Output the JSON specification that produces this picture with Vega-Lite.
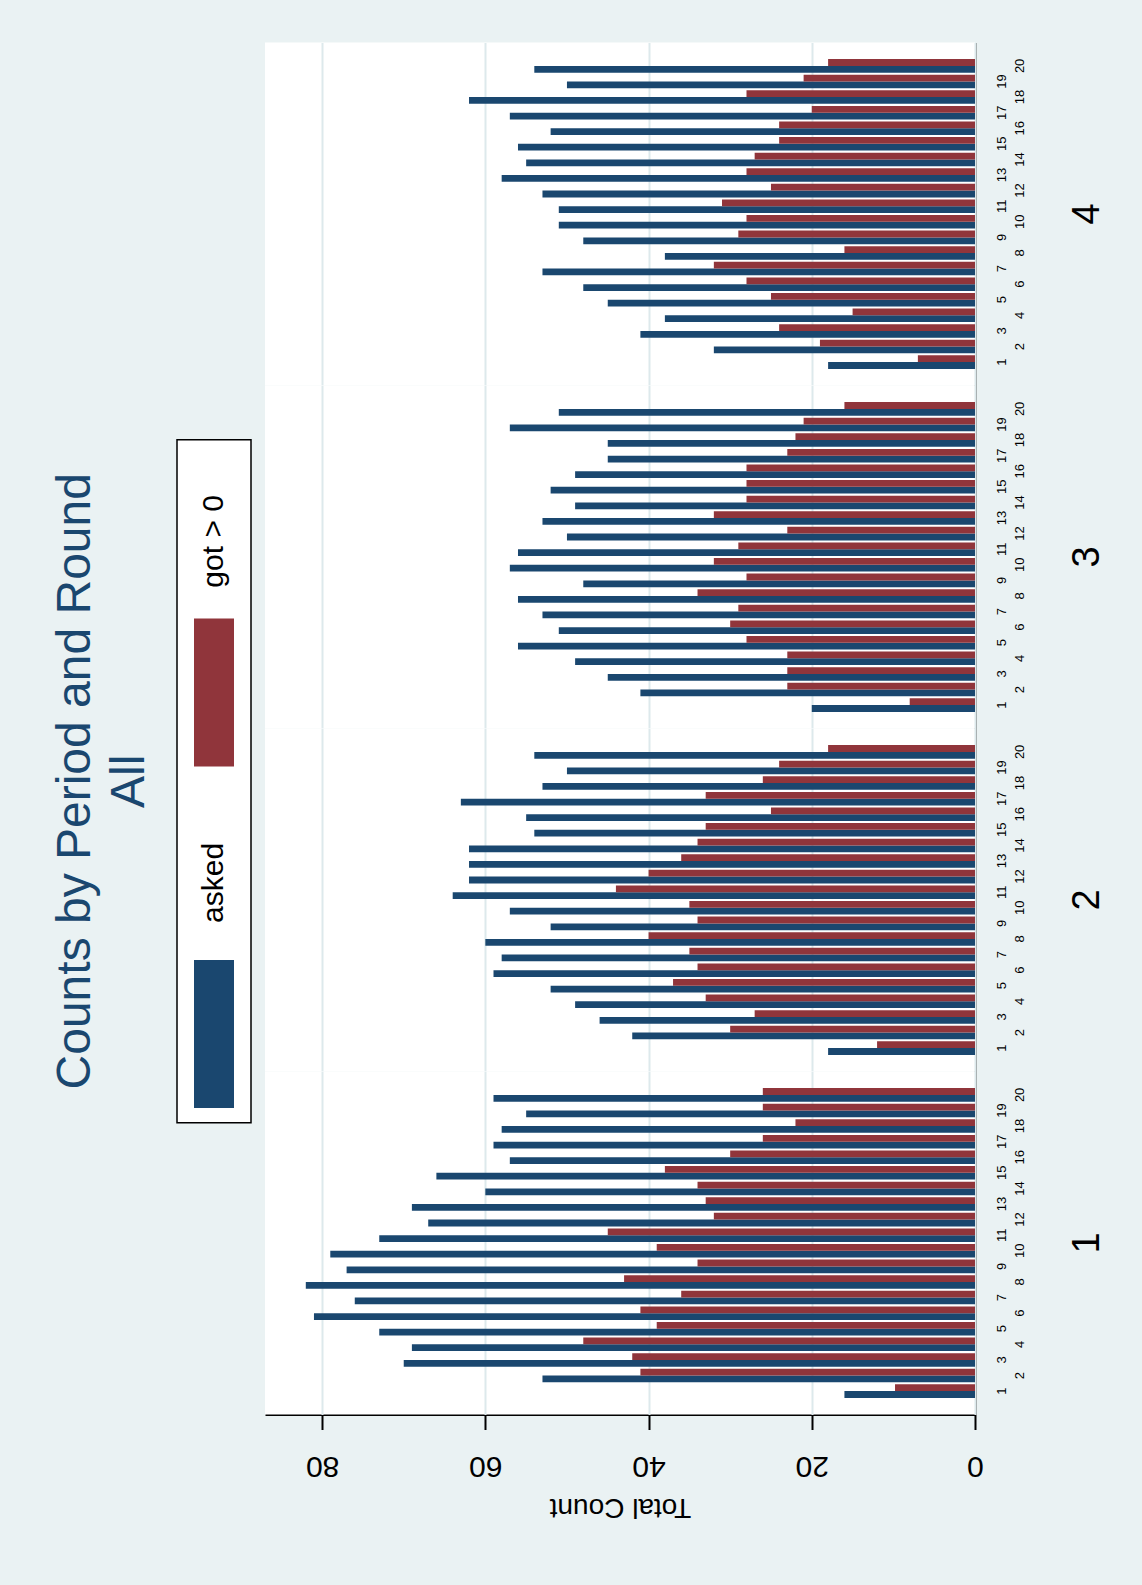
{
  "$schema": "https://vega.github.io/schema/vega-lite/v6.json",
  "background": "#eaf2f3",
  "padding": {"left": 52, "top": 42, "right": 50, "bottom": 70},
  "title": {
    "text": ["Counts by Period and Round", "All"],
    "orient": "left",
    "angle": -90,
    "anchor": "middle",
    "fontSize": 48,
    "font": "Liberation Sans",
    "fontWeight": "normal",
    "color": "#1a476f",
    "lineHeight": 54,
    "offset": 22
  },
  "datasets": {
    "legend": [{"s": "asked"}, {"s": "got > 0"}],
    "counts": [
      {"p":1,"r":1,"s":"asked","n":16},{"p":1,"r":1,"s":"got > 0","n":9.8},
      {"p":1,"r":2,"s":"asked","n":53},{"p":1,"r":2,"s":"got > 0","n":41},
      {"p":1,"r":3,"s":"asked","n":70},{"p":1,"r":3,"s":"got > 0","n":42},
      {"p":1,"r":4,"s":"asked","n":69},{"p":1,"r":4,"s":"got > 0","n":48},
      {"p":1,"r":5,"s":"asked","n":73},{"p":1,"r":5,"s":"got > 0","n":39},
      {"p":1,"r":6,"s":"asked","n":81},{"p":1,"r":6,"s":"got > 0","n":41},
      {"p":1,"r":7,"s":"asked","n":76},{"p":1,"r":7,"s":"got > 0","n":36},
      {"p":1,"r":8,"s":"asked","n":82},{"p":1,"r":8,"s":"got > 0","n":43},
      {"p":1,"r":9,"s":"asked","n":77},{"p":1,"r":9,"s":"got > 0","n":34},
      {"p":1,"r":10,"s":"asked","n":79},{"p":1,"r":10,"s":"got > 0","n":39},
      {"p":1,"r":11,"s":"asked","n":73},{"p":1,"r":11,"s":"got > 0","n":45},
      {"p":1,"r":12,"s":"asked","n":67},{"p":1,"r":12,"s":"got > 0","n":32},
      {"p":1,"r":13,"s":"asked","n":69},{"p":1,"r":13,"s":"got > 0","n":33},
      {"p":1,"r":14,"s":"asked","n":60},{"p":1,"r":14,"s":"got > 0","n":34},
      {"p":1,"r":15,"s":"asked","n":66},{"p":1,"r":15,"s":"got > 0","n":38},
      {"p":1,"r":16,"s":"asked","n":57},{"p":1,"r":16,"s":"got > 0","n":30},
      {"p":1,"r":17,"s":"asked","n":59},{"p":1,"r":17,"s":"got > 0","n":26},
      {"p":1,"r":18,"s":"asked","n":58},{"p":1,"r":18,"s":"got > 0","n":22},
      {"p":1,"r":19,"s":"asked","n":55},{"p":1,"r":19,"s":"got > 0","n":26},
      {"p":1,"r":20,"s":"asked","n":59},{"p":1,"r":20,"s":"got > 0","n":26},
      {"p":2,"r":1,"s":"asked","n":18},{"p":2,"r":1,"s":"got > 0","n":12},
      {"p":2,"r":2,"s":"asked","n":42},{"p":2,"r":2,"s":"got > 0","n":30},
      {"p":2,"r":3,"s":"asked","n":46},{"p":2,"r":3,"s":"got > 0","n":27},
      {"p":2,"r":4,"s":"asked","n":49},{"p":2,"r":4,"s":"got > 0","n":33},
      {"p":2,"r":5,"s":"asked","n":52},{"p":2,"r":5,"s":"got > 0","n":37},
      {"p":2,"r":6,"s":"asked","n":59},{"p":2,"r":6,"s":"got > 0","n":34},
      {"p":2,"r":7,"s":"asked","n":58},{"p":2,"r":7,"s":"got > 0","n":35},
      {"p":2,"r":8,"s":"asked","n":60},{"p":2,"r":8,"s":"got > 0","n":40},
      {"p":2,"r":9,"s":"asked","n":52},{"p":2,"r":9,"s":"got > 0","n":34},
      {"p":2,"r":10,"s":"asked","n":57},{"p":2,"r":10,"s":"got > 0","n":35},
      {"p":2,"r":11,"s":"asked","n":64},{"p":2,"r":11,"s":"got > 0","n":44},
      {"p":2,"r":12,"s":"asked","n":62},{"p":2,"r":12,"s":"got > 0","n":40},
      {"p":2,"r":13,"s":"asked","n":62},{"p":2,"r":13,"s":"got > 0","n":36},
      {"p":2,"r":14,"s":"asked","n":62},{"p":2,"r":14,"s":"got > 0","n":34},
      {"p":2,"r":15,"s":"asked","n":54},{"p":2,"r":15,"s":"got > 0","n":33},
      {"p":2,"r":16,"s":"asked","n":55},{"p":2,"r":16,"s":"got > 0","n":25},
      {"p":2,"r":17,"s":"asked","n":63},{"p":2,"r":17,"s":"got > 0","n":33},
      {"p":2,"r":18,"s":"asked","n":53},{"p":2,"r":18,"s":"got > 0","n":26},
      {"p":2,"r":19,"s":"asked","n":50},{"p":2,"r":19,"s":"got > 0","n":24},
      {"p":2,"r":20,"s":"asked","n":54},{"p":2,"r":20,"s":"got > 0","n":18},
      {"p":3,"r":1,"s":"asked","n":20},{"p":3,"r":1,"s":"got > 0","n":8},
      {"p":3,"r":2,"s":"asked","n":41},{"p":3,"r":2,"s":"got > 0","n":23},
      {"p":3,"r":3,"s":"asked","n":45},{"p":3,"r":3,"s":"got > 0","n":23},
      {"p":3,"r":4,"s":"asked","n":49},{"p":3,"r":4,"s":"got > 0","n":23},
      {"p":3,"r":5,"s":"asked","n":56},{"p":3,"r":5,"s":"got > 0","n":28},
      {"p":3,"r":6,"s":"asked","n":51},{"p":3,"r":6,"s":"got > 0","n":30},
      {"p":3,"r":7,"s":"asked","n":53},{"p":3,"r":7,"s":"got > 0","n":29},
      {"p":3,"r":8,"s":"asked","n":56},{"p":3,"r":8,"s":"got > 0","n":34},
      {"p":3,"r":9,"s":"asked","n":48},{"p":3,"r":9,"s":"got > 0","n":28},
      {"p":3,"r":10,"s":"asked","n":57},{"p":3,"r":10,"s":"got > 0","n":32},
      {"p":3,"r":11,"s":"asked","n":56},{"p":3,"r":11,"s":"got > 0","n":29},
      {"p":3,"r":12,"s":"asked","n":50},{"p":3,"r":12,"s":"got > 0","n":23},
      {"p":3,"r":13,"s":"asked","n":53},{"p":3,"r":13,"s":"got > 0","n":32},
      {"p":3,"r":14,"s":"asked","n":49},{"p":3,"r":14,"s":"got > 0","n":28},
      {"p":3,"r":15,"s":"asked","n":52},{"p":3,"r":15,"s":"got > 0","n":28},
      {"p":3,"r":16,"s":"asked","n":49},{"p":3,"r":16,"s":"got > 0","n":28},
      {"p":3,"r":17,"s":"asked","n":45},{"p":3,"r":17,"s":"got > 0","n":23},
      {"p":3,"r":18,"s":"asked","n":45},{"p":3,"r":18,"s":"got > 0","n":22},
      {"p":3,"r":19,"s":"asked","n":57},{"p":3,"r":19,"s":"got > 0","n":21},
      {"p":3,"r":20,"s":"asked","n":51},{"p":3,"r":20,"s":"got > 0","n":16},
      {"p":4,"r":1,"s":"asked","n":18},{"p":4,"r":1,"s":"got > 0","n":7},
      {"p":4,"r":2,"s":"asked","n":32},{"p":4,"r":2,"s":"got > 0","n":19},
      {"p":4,"r":3,"s":"asked","n":41},{"p":4,"r":3,"s":"got > 0","n":24},
      {"p":4,"r":4,"s":"asked","n":38},{"p":4,"r":4,"s":"got > 0","n":15},
      {"p":4,"r":5,"s":"asked","n":45},{"p":4,"r":5,"s":"got > 0","n":25},
      {"p":4,"r":6,"s":"asked","n":48},{"p":4,"r":6,"s":"got > 0","n":28},
      {"p":4,"r":7,"s":"asked","n":53},{"p":4,"r":7,"s":"got > 0","n":32},
      {"p":4,"r":8,"s":"asked","n":38},{"p":4,"r":8,"s":"got > 0","n":16},
      {"p":4,"r":9,"s":"asked","n":48},{"p":4,"r":9,"s":"got > 0","n":29},
      {"p":4,"r":10,"s":"asked","n":51},{"p":4,"r":10,"s":"got > 0","n":28},
      {"p":4,"r":11,"s":"asked","n":51},{"p":4,"r":11,"s":"got > 0","n":31},
      {"p":4,"r":12,"s":"asked","n":53},{"p":4,"r":12,"s":"got > 0","n":25},
      {"p":4,"r":13,"s":"asked","n":58},{"p":4,"r":13,"s":"got > 0","n":28},
      {"p":4,"r":14,"s":"asked","n":55},{"p":4,"r":14,"s":"got > 0","n":27},
      {"p":4,"r":15,"s":"asked","n":56},{"p":4,"r":15,"s":"got > 0","n":24},
      {"p":4,"r":16,"s":"asked","n":52},{"p":4,"r":16,"s":"got > 0","n":24},
      {"p":4,"r":17,"s":"asked","n":57},{"p":4,"r":17,"s":"got > 0","n":20},
      {"p":4,"r":18,"s":"asked","n":62},{"p":4,"r":18,"s":"got > 0","n":28},
      {"p":4,"r":19,"s":"asked","n":50},{"p":4,"r":19,"s":"got > 0","n":21},
      {"p":4,"r":20,"s":"asked","n":54},{"p":4,"r":20,"s":"got > 0","n":18}
    ]
  },
  "hconcat": [
    {
      "data": {"name": "legend"},
      "width": 74,
      "height": 683,
      "view": {"fill": "white", "stroke": "black", "strokeWidth": 1.5},
      "encoding": {
        "y": {"field": "s", "type": "nominal", "sort": ["got > 0", "asked"], "axis": null,
              "scale": {"paddingInner": 0, "paddingOuter": 0}}
      },
      "layer": [
        {
          "mark": {"type": "rect", "height": 148, "yOffset": 82},
          "encoding": {
            "x": {"value": 17},
            "x2": {"value": 57},
            "color": {"field": "s", "type": "nominal", "legend": null,
                      "scale": {"domain": ["asked", "got > 0"], "range": ["#1a476f", "#90353b"]}}
          }
        },
        {
          "mark": {"type": "text", "angle": -90, "fontSize": 30, "font": "Liberation Sans",
                   "color": "black", "yOffset": -69, "align": "center", "baseline": "middle"},
          "encoding": {"x": {"value": 37}, "text": {"field": "s"}}
        }
      ]
    },
    {
      "data": {"name": "counts"},
      "facet": {
        "row": {"field": "p", "type": "ordinal", "sort": "descending",
                "header": {"title": null, "labelOrient": "right", "labelAngle": -90,
                           "labelFontSize": 38, "labelFont": "Liberation Sans",
                           "labelAlign": "center", "labelPadding": 24}}
      },
      "spacing": 0,
      "spec": {
        "width": 710,
        "height": 343,
        "view": {"fill": "white", "stroke": null},
        "encoding": {
          "x": {"field": "n", "type": "quantitative",
                "scale": {"domain": [0, 87], "nice": false, "reverse": true},
                "axis": {"values": [0, 20, 40, 60, 80], "title": "Total Count", "orient": "bottom",
                         "labelAngle": 179.99, "labelFontSize": 30, "labelFont": "Liberation Sans",
                         "labelColor": "black", "labelPadding": 36, "labelBaseline": "middle",
                         "labelAlign": "center",
                         "titleAngle": 180, "titleFontSize": 28, "titleFont": "Liberation Sans",
                         "titleFontWeight": "normal", "titleColor": "black", "titlePadding": 40,
                         "domainColor": "black", "domainWidth": 2, "ticks": true, "tickColor": "black",
                         "tickWidth": 2, "tickSize": 15, "grid": true, "gridColor": "#dde9ec",
                         "gridWidth": 2}},
          "y": {"field": "r", "type": "ordinal", "sort": "descending",
                "scale": {"paddingInner": 0, "paddingOuter": 1.06}},
          "yOffset": {"field": "s", "type": "nominal", "sort": ["got > 0", "asked"],
                      "scale": {"paddingInner": 0, "paddingOuter": 0.15}},
          "color": {"field": "s", "type": "nominal", "legend": null,
                    "scale": {"domain": ["asked", "got > 0"], "range": ["#1a476f", "#90353b"]}}
        },
        "layer": [
          {
            "mark": {"type": "bar"},
            "encoding": {
              "y": {"field": "r", "type": "ordinal", "sort": "descending",
                    "axis": {"orient": "right", "title": null, "ticks": false,
                             "labelExpr": "datum.value % 2 == 1 ? datum.label : ''",
                             "labelAngle": -90, "labelAlign": "center", "labelBaseline": "middle",
                             "labelFontSize": 13, "labelFont": "Liberation Sans",
                             "labelColor": "black", "labelPadding": 26, "domainColor": "black",
                             "domainWidth": 2, "labelOverlap": false}}
            }
          },
          {
            "mark": {"type": "bar", "opacity": 0},
            "encoding": {
              "y": {"field": "r", "type": "ordinal", "sort": "descending",
                    "axis": {"orient": "right", "title": null, "ticks": false, "domain": false,
                             "labelExpr": "datum.value % 2 == 0 ? datum.label : ''",
                             "labelAngle": -90, "labelAlign": "center", "labelBaseline": "middle",
                             "labelFontSize": 13, "labelFont": "Liberation Sans",
                             "labelColor": "black", "labelPadding": 44, "offset": 0,
                             "labelOverlap": false}}
            }
          }
        ],
        "resolve": {"axis": {"y": "independent"}}
      }
    }
  ],
  "spacing": 13,
  "center": true,
  "config": {"axis": {"gridColor": "#dde9ec"}}
}
